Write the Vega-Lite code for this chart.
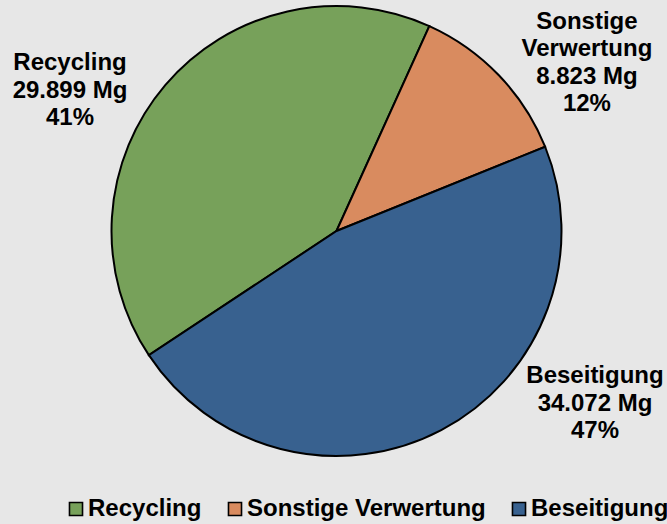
{
  "$schema": "https://vega.github.io/schema/vega-lite/v6.json",
  "width": 661,
  "height": 460,
  "autosize": {"type": "none"},
  "padding": {"left": 6, "right": 0, "top": 1, "bottom": 63},
  "background": "#e7e7e7",
  "config": {
    "view": {"stroke": null},
    "font": "Liberation Sans",
    "legend": {
      "labelFont": "Liberation Sans",
      "labelFontSize": 24,
      "labelFontWeight": "bold",
      "labelColor": "#000000",
      "labelLimit": 0,
      "symbolType": "square",
      "symbolSize": 170,
      "symbolStrokeColor": "#000000",
      "symbolStrokeWidth": 1.6,
      "symbolOpacity": 1,
      "columnPadding": 21,
      "labelOffset": 0,
      "padding": 0
    }
  },
  "data": {
    "values": [
      {"kategorie": "Recycling", "menge": 29899, "label": ["Recycling", "29.899 Mg", "41%"]},
      {"kategorie": "Sonstige Verwertung", "menge": 8823, "label": ["Sonstige", "Verwertung", "8.823 Mg", "12%"]},
      {"kategorie": "Beseitigung", "menge": 34072, "label": ["Beseitigung", "34.072 Mg", "47%"]}
    ]
  },
  "transform": [
    {"stack": "menge", "groupby": [], "sort": [{"field": "kategorie", "order": "ascending"}], "as": ["t0", "t1"]}
  ],
  "layer": [
    {
      "mark": {"type": "arc", "outerRadius": 225, "stroke": "#000000", "strokeWidth": 2},
      "encoding": {
        "theta": {"field": "t0", "type": "quantitative", "stack": null, "scale": {"domain": [0, 72794], "range": [1.187, 7.470], "nice": false, "zero": true}},
        "theta2": {"field": "t1"},
        "color": {
          "field": "kategorie",
          "type": "nominal",
          "scale": {"domain": ["Recycling", "Sonstige Verwertung", "Beseitigung"], "range": ["#77a15a", "#d98b5f", "#38618f"]},
          "legend": {"title": null, "orient": "none", "direction": "horizontal", "legendX": 58, "legendY": 496}
        }
      }
    },
    {
      "transform": [{"filter": "datum.kategorie === 'Recycling'"}],
      "mark": {"type": "text", "radius": 315, "thetaOffset": 1.147, "fontSize": 24, "fontWeight": "bold", "lineHeight": 27.5, "align": "center", "baseline": "middle", "color": "#000000"},
      "encoding": {"theta": {"field": "t0", "type": "quantitative", "stack": null}, "text": {"field": "label"}}
    },
    {
      "transform": [{"filter": "datum.kategorie === 'Sonstige Verwertung'"}],
      "mark": {"type": "text", "radius": 326.2, "thetaOffset": 0.450, "fontSize": 24, "fontWeight": "bold", "lineHeight": 27.5, "align": "center", "baseline": "middle", "color": "#000000"},
      "encoding": {"theta": {"field": "t0", "type": "quantitative", "stack": null}, "text": {"field": "label"}}
    },
    {
      "transform": [{"filter": "datum.kategorie === 'Beseitigung'"}],
      "mark": {"type": "text", "radius": 296.4, "thetaOffset": 0.895, "fontSize": 24, "fontWeight": "bold", "lineHeight": 27.5, "align": "center", "baseline": "middle", "color": "#000000"},
      "encoding": {"theta": {"field": "t0", "type": "quantitative", "stack": null}, "text": {"field": "label"}}
    }
  ]
}
